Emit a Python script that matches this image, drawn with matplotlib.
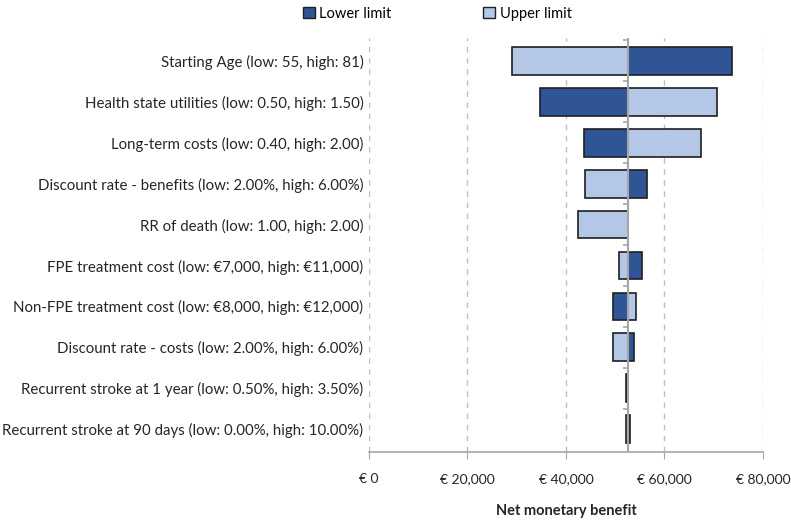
import numpy as np
import matplotlib.pyplot as plt
from matplotlib.ticker import FuncFormatter
from matplotlib.patches import Patch

plt.rcParams['font.family'] = ['Lato', 'DejaVu Sans']

params = [
    'Starting Age (low: 55, high: 81)',
    'Health state utilities (low: 0.50, high: 1.50)',
    'Long-term costs (low: 0.40, high: 2.00)',
    'Discount rate - benefits (low: 2.00%, high: 6.00%)',
    'RR of death (low: 1.00, high: 2.00)',
    'FPE treatment cost (low: €7,000, high: €11,000)',
    'Non-FPE treatment cost (low: €8,000, high: €12,000)',
    'Discount rate - costs (low: 2.00%, high: 6.00%)',
    'Recurrent stroke at 1 year (low: 0.50%, high: 3.50%)',
    'Recurrent stroke at 90 days (low: 0.00%, high: 10.00%)',
]
base = 52600
lower = [73700, 34700, 43600, 56400, 52600, 55500, 49600, 53900, 52250, 53000]
upper = [29000, 70700, 67500, 43900, 42500, 50700, 54200, 49600, 52600, 52250]

dark = '#2F5597'
light = '#B4C7E7'
edge = '#1f1f1f'

fig = plt.figure(figsize=(7.91, 5.23), dpi=100)
ax = fig.add_axes([0.4665, 0.136, 0.498, 0.791])

y = np.arange(len(params))
lo = np.array(lower) - base
up = np.array(upper) - base
ax.barh(y, lo, left=base, height=0.68, color=dark, edgecolor=edge, lw=1.2, zorder=3)
ax.barh(y, up, left=base, height=0.68, color=light, edgecolor=edge, lw=1.2, zorder=3)

ax.set_xlim(0, 80000)
ax.set_ylim(len(params) - 0.45, -0.55)
ax.set_xticks([0, 20000, 40000, 60000, 80000])
ax.xaxis.set_major_formatter(FuncFormatter(lambda v, p: '€ {:,.0f}'.format(v)))
ax.grid(axis='x', ls=(0, (4, 4)), color='#bfbfbf', lw=1)
ax.set_axisbelow(True)

ax.set_yticks(y)
ax.set_yticklabels(params, fontsize=10.8, color='#262626')
ax.tick_params(axis='y', length=0, pad=4)
ax.tick_params(axis='x', length=5, color='#a6a6a6', labelsize=10, labelcolor='#262626', pad=10)

for s in ['top', 'right', 'left']:
    ax.spines[s].set_visible(False)
ax.spines['bottom'].set_color('#a6a6a6')
ax.spines['bottom'].set_linewidth(1.2)

# category axis at the base value
ax.axvline(base, color='#a6a6a6', lw=1.5, zorder=4)
ax.hlines(np.arange(len(params)) - 0.5, base - 1000, base, color='#a6a6a6', lw=1.2, zorder=4)

ax.set_xlabel('Net monetary benefit', fontsize=10.5, fontweight='bold', labelpad=14, color='#262626')

handles = [Patch(facecolor=dark, edgecolor=edge, label='Lower limit'),
           Patch(facecolor=light, edgecolor=edge, label='Upper limit')]
fig.legend(handles=handles, loc='upper center', bbox_to_anchor=(0.553, 1.012), ncol=2,
           frameon=False, fontsize=10.5, handlelength=0.8, handleheight=0.8,
           handletextpad=0.3, columnspacing=6.3)

plt.savefig('out.png', dpi=100)
